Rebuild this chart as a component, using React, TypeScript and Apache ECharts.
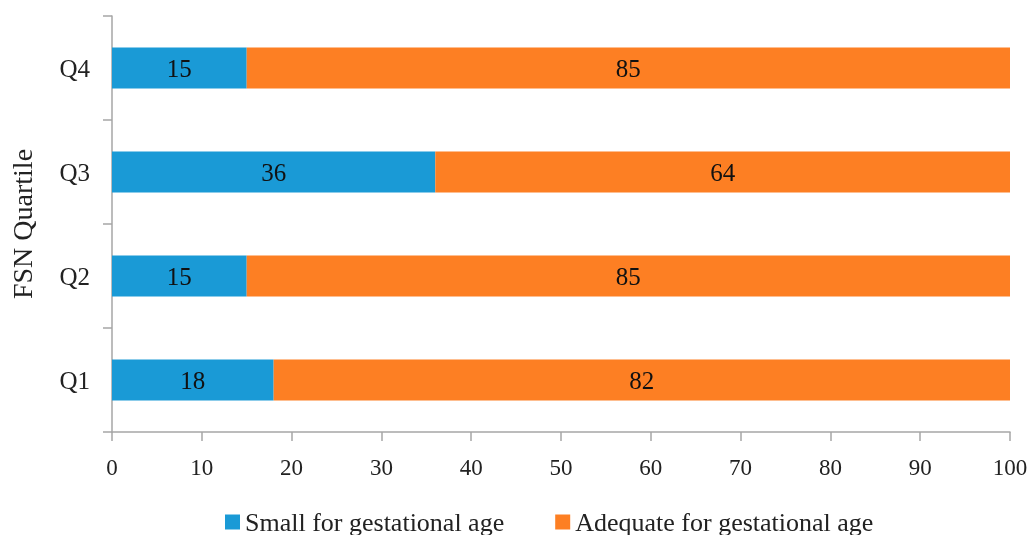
import React, { useEffect, useRef } from "react";
import * as echarts from "echarts";

const categories = ["Q1", "Q2", "Q3", "Q4"];
const smallForGA = [18, 15, 36, 15];
const adequateForGA = [82, 85, 64, 85];
const seriesNames = ["Small for gestational age", "Adequate for gestational age"];
const xTicks = { min: 0, max: 100, interval: 10 };

const FONT = "'Liberation Serif', 'DejaVu Serif', serif";

export default function App() {
  const ref = useRef<HTMLDivElement>(null);
  useEffect(() => {
    const chart = echarts.init(ref.current!, null, { renderer: "svg" });
    const axisColor = "#a6a6a6";
    chart.setOption({
      animation: false,
      textStyle: { fontFamily: FONT },
      grid: { left: 110, right: 23, top: 16, bottom: 103, containLabel: false },
      legend: {
        top: 504,
        left: 220,
        itemWidth: 15,
        itemHeight: 15,
        itemGap: 51,
        icon: "rect",
        textStyle: { fontFamily: FONT, fontSize: 26, color: "#222" },
        data: seriesNames,
      },
      xAxis: {
        type: "value",
        min: xTicks.min,
        max: xTicks.max,
        interval: xTicks.interval,
        splitLine: { show: false },
        axisLine: { show: true, lineStyle: { color: axisColor, width: 1.5 } },
        axisTick: { show: true, length: 9, lineStyle: { color: axisColor, width: 1.5 } },
        axisLabel: { fontFamily: FONT, fontSize: 23, color: "#222", margin: 24 },
      },
      yAxis: {
        type: "category",
        data: categories,
        name: "FSN Quartile",
        nameLocation: "middle",
        nameGap: 76,
        nameTextStyle: { fontFamily: FONT, fontSize: 28, color: "#222" },
        axisLine: { show: true, lineStyle: { color: axisColor, width: 1.5 } },
        axisTick: { show: true, length: 9, lineStyle: { color: axisColor, width: 1.5 } },
        axisLabel: { fontFamily: FONT, fontSize: 25, color: "#222", margin: 22 },
      },
      series: [
        {
          name: seriesNames[0],
          type: "bar",
          stack: "total",
          data: smallForGA,
          barWidth: 41,
          itemStyle: { color: "#1a9ad6" },
          label: { show: true, position: "inside", color: "#111", fontFamily: FONT, fontSize: 25 },
        },
        {
          name: seriesNames[1],
          type: "bar",
          stack: "total",
          data: adequateForGA,
          barWidth: 41,
          itemStyle: { color: "#fd7f23" },
          label: { show: true, position: "inside", color: "#111", fontFamily: FONT, fontSize: 25 },
        },
      ],
    });
    return () => chart.dispose();
  }, []);
  return (
    <div
      ref={ref}
      style={{ position: "fixed", left: 0, top: 0, width: 1033, height: 535 }}
    />
  );
}
